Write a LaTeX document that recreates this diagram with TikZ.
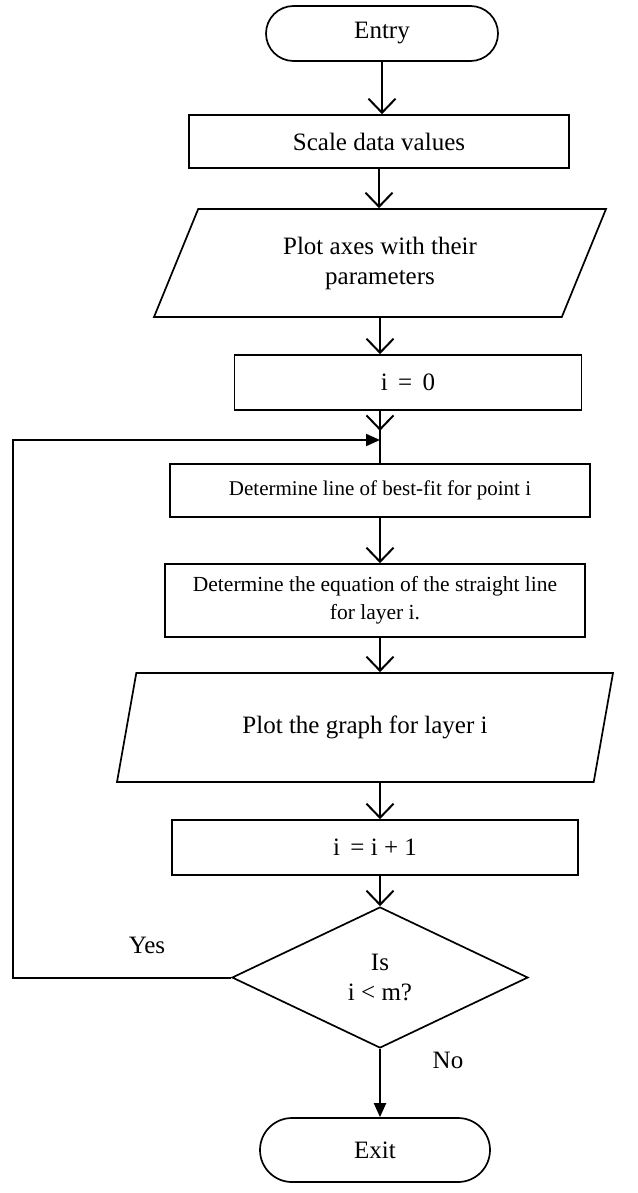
\documentclass[tikz,border=0pt]{standalone}
\usepackage{fontspec}
\setmainfont{Liberation Serif}
\usetikzlibrary{arrows.meta, shapes.geometric, shapes.misc}

\begin{document}
\begin{tikzpicture}[x=1pt, y=-1pt,
			line width=1.7pt,
			font=\fontsize{25}{30}\selectfont,
			flow/.style={-{Straight Barb[length=14pt,width=27pt,line width=2pt]}, line width=2pt},
			back/.style={-{Triangle[length=14pt,width=12pt]}, line width=2pt},
			proc/.style={draw, rectangle, inner sep=0pt, align=center},
			term/.style={draw, rounded rectangle, inner sep=0pt},
			io/.style={draw, trapezium, trapezium left angle=50, trapezium right angle=130,
				trapezium stretches body, inner sep=0pt, align=center},
			test/.style={draw, diamond, inner sep=0pt, align=center}]

			\useasboundingbox (0,0) rectangle (637,1193);

			\node[term, minimum width=232pt, minimum height=55pt] (entry) at (382,33.5) {Entry};
			\node[proc, minimum width=380pt, minimum height=53pt] (scale) at (379,141.5) {Scale data values};
			\node[io, minimum width=452pt, minimum height=108pt] (axes) at (380,263) {Plot axes with their\\parameters};
			\node[proc, minimum width=347pt, minimum height=55pt] (init) at (408,382.5) {i \,=\, 0};
			\node[proc, minimum width=420pt, minimum height=53pt, font=\fontsize{21}{25}\selectfont] (fit) at (380,490.5) {Determine line of best-fit for point i};
			\node[proc, minimum width=420pt, minimum height=73pt, font=\fontsize{21.5}{28}\selectfont] (eqn) at (375,600.5) {Determine the equation of the straight line\\for layer i.};
			\node[io, minimum width=496pt, minimum height=109pt] (graph) at (365,727.5) {Plot the graph for layer i};
			\node[proc, minimum width=406pt, minimum height=55pt] (incr) at (375,847.5) {i \,= i + 1};
			\node[test, minimum width=296pt, minimum height=141pt] (cond) at (380,977.5) {Is\\i < m?};
			\node[term, minimum width=230pt, minimum height=64pt] (exit) at (375,1150) {Exit};

			\node (yes) at (147,945) {Yes};
			\node (no) at (448,1060) {No};

			\coordinate (corner) at (13,440);

			\draw[flow] (entry.south) -- (entry.south |- scale.north);
			\draw[flow] (scale.south) -- (scale.south |- axes.north);
			\draw[flow] (axes.south) -- (axes.south |- init.north);
			\draw (init.south -| fit.north) -- (fit.north);
			\draw[flow] ([yshift=-6pt]init.south -| fit.north) -- ++(0,14);
			\draw[back] (cond.west) -| (corner) -- (corner -| fit.north);
			\draw[flow] (fit.south) -- (fit.south |- eqn.north);
			\draw[flow] (eqn.south -| fit.south) -- (fit.south |- graph.north);
			\draw[flow] (graph.south -| fit.south) -- (fit.south |- incr.north);
			\draw[flow] (incr.south -| cond.north) -- (cond.north);
			\draw[back] (cond.south) -- (cond.south |- exit.north);
		\end{tikzpicture}
\end{document}
